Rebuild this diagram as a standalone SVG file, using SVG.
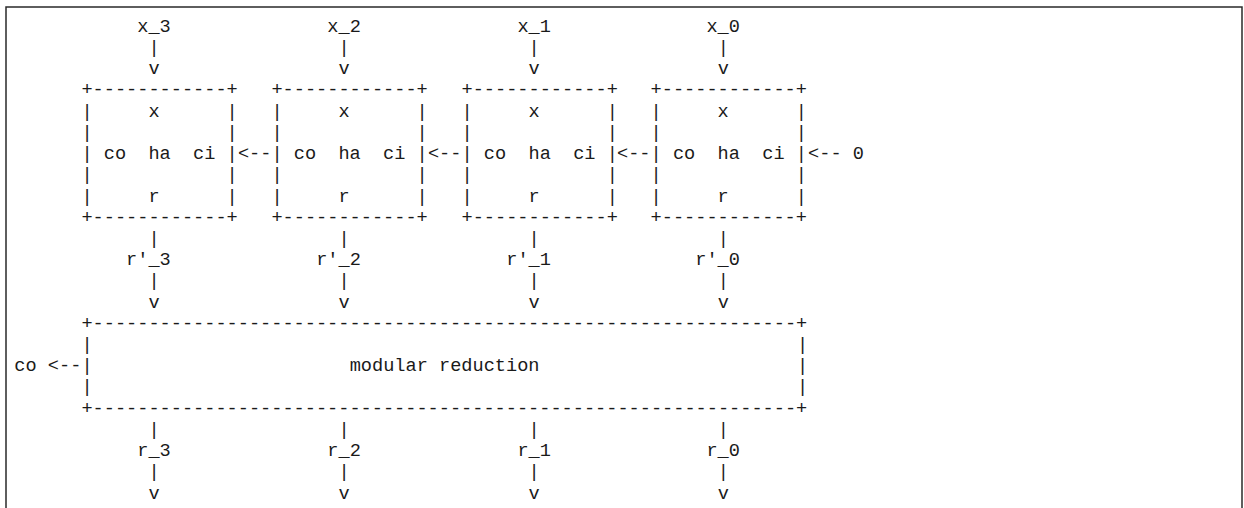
<svg xmlns="http://www.w3.org/2000/svg" width="1244" height="508" viewBox="0 0 1244 508" xml:space="preserve">
<style>
text{font-family:"Liberation Mono","DejaVu Sans Mono",monospace;font-size:18.63px;fill:#1a1a1a;white-space:pre}
.frame{fill:none;stroke:#2a2a2a;stroke-width:1.5}
</style>
<rect width="1244" height="508" fill="#ffffff"/>
<path class="frame" d="M6,508 V7 H1242 V508"/>
<g id="ha3" transform="translate(81.38,0)">
<text xml:space="preserve" x="0" y="95.4">+------------+</text>
<text xml:space="preserve" x="0" y="116.6">|     x      |</text>
<text xml:space="preserve" x="0" y="137.8">|            |</text>
<text xml:space="preserve" x="0" y="159.0">| co  ha  ci |</text>
<text xml:space="preserve" x="0" y="180.2">|            |</text>
<text xml:space="preserve" x="0" y="201.5">|     r      |</text>
<text xml:space="preserve" x="0" y="222.7">+------------+</text>
</g>
<g id="ha2" transform="translate(271.44,0)">
<text xml:space="preserve" x="0" y="95.4">+------------+</text>
<text xml:space="preserve" x="0" y="116.6">|     x      |</text>
<text xml:space="preserve" x="0" y="137.8">|            |</text>
<text xml:space="preserve" x="0" y="159.0">| co  ha  ci |</text>
<text xml:space="preserve" x="0" y="180.2">|            |</text>
<text xml:space="preserve" x="0" y="201.5">|     r      |</text>
<text xml:space="preserve" x="0" y="222.7">+------------+</text>
</g>
<g id="ha1" transform="translate(461.5,0)">
<text xml:space="preserve" x="0" y="95.4">+------------+</text>
<text xml:space="preserve" x="0" y="116.6">|     x      |</text>
<text xml:space="preserve" x="0" y="137.8">|            |</text>
<text xml:space="preserve" x="0" y="159.0">| co  ha  ci |</text>
<text xml:space="preserve" x="0" y="180.2">|            |</text>
<text xml:space="preserve" x="0" y="201.5">|     r      |</text>
<text xml:space="preserve" x="0" y="222.7">+------------+</text>
</g>
<g id="ha0" transform="translate(650.56,0)">
<text xml:space="preserve" x="0" y="95.4">+------------+</text>
<text xml:space="preserve" x="0" y="116.6">|     x      |</text>
<text xml:space="preserve" x="0" y="137.8">|            |</text>
<text xml:space="preserve" x="0" y="159.0">| co  ha  ci |</text>
<text xml:space="preserve" x="0" y="180.2">|            |</text>
<text xml:space="preserve" x="0" y="201.5">|     r      |</text>
<text xml:space="preserve" x="0" y="222.7">+------------+</text>
</g>
<g id="modred">
<text x="81.38" y="328.8">+---------------------------------------------------------------+</text>
<text x="81.38" y="350.0">|</text>
<text x="81.38" y="371.2">|</text>
<text x="81.38" y="392.4">|</text>
<text x="796.9" y="350.0">|</text>
<text x="796.9" y="371.2">|</text>
<text x="796.9" y="392.4">|</text>
<text xml:space="preserve" x="349.7" y="371.2">modular reduction</text>
<text x="81.38" y="413.7">+---------------------------------------------------------------+</text>
</g>
<g id="labels">
<text x="137.28" y="31.7">x_3</text>
<text x="327.34" y="31.7">x_2</text>
<text x="517.4" y="31.7">x_1</text>
<text x="706.46" y="31.7">x_0</text>
<text x="852.8" y="159.0">0</text>
<text x="126.1" y="265.1">r'_3</text>
<text x="316.16" y="265.1">r'_2</text>
<text x="506.22" y="265.1">r'_1</text>
<text x="695.28" y="265.1">r'_0</text>
<text x="14.3" y="371.2">co</text>
<text x="137.28" y="456.1">r_3</text>
<text x="327.34" y="456.1">r_2</text>
<text x="517.4" y="456.1">r_1</text>
<text x="706.46" y="456.1">r_0</text>
</g>
<g id="connectors">
<text x="148.46" y="52.9">|</text><text x="148.46" y="74.1">v</text>
<text x="338.52" y="52.9">|</text><text x="338.52" y="74.1">v</text>
<text x="528.58" y="52.9">|</text><text x="528.58" y="74.1">v</text>
<text x="717.64" y="52.9">|</text><text x="717.64" y="74.1">v</text>
<text x="237.9" y="159.0">&lt;--</text>
<text x="427.96" y="159.0">&lt;--</text>
<text x="617.02" y="159.0">&lt;--</text>
<text x="808.08" y="159.0">&lt;--</text>
<text x="148.46" y="243.9">|</text><text x="148.46" y="286.3">|</text><text x="148.46" y="307.6">v</text>
<text x="338.52" y="243.9">|</text><text x="338.52" y="286.3">|</text><text x="338.52" y="307.6">v</text>
<text x="528.58" y="243.9">|</text><text x="528.58" y="286.3">|</text><text x="528.58" y="307.6">v</text>
<text x="717.64" y="243.9">|</text><text x="717.64" y="286.3">|</text><text x="717.64" y="307.6">v</text>
<text x="47.84" y="371.2">&lt;--</text>
<text x="148.46" y="434.9">|</text><text x="148.46" y="477.3">|</text><text x="148.46" y="498.5">v</text>
<text x="338.52" y="434.9">|</text><text x="338.52" y="477.3">|</text><text x="338.52" y="498.5">v</text>
<text x="528.58" y="434.9">|</text><text x="528.58" y="477.3">|</text><text x="528.58" y="498.5">v</text>
<text x="717.64" y="434.9">|</text><text x="717.64" y="477.3">|</text><text x="717.64" y="498.5">v</text>
</g>
</svg>
